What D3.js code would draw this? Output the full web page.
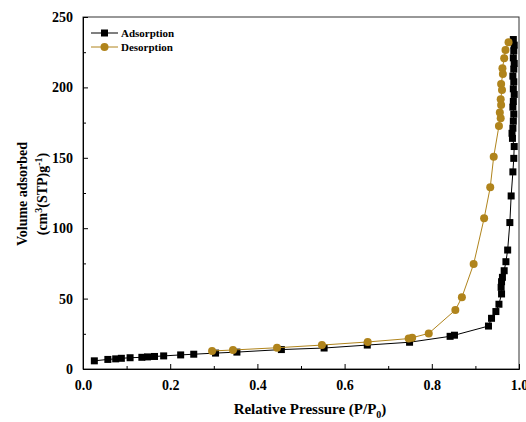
<!DOCTYPE html>
<html><head><meta charset="utf-8">
<script src="https://cdn.jsdelivr.net/npm/d3@7"></script>
<style>html,body{margin:0;padding:0;background:#fff;}svg{display:block;}</style>
</head><body>
<svg id="chart" width="526" height="422"></svg>
<script>
// ---- data ----
const adsP = [0.026,0.057,0.075,0.088,0.108,0.135,0.148,0.164,0.185,0.224,0.254,0.304,0.353,0.455,0.553,0.652,0.749,0.842,0.852,0.930,0.937,0.947,0.954,0.960,0.959,0.960,0.962,0.966,0.970,0.974,0.979,0.982,0.986,0.988,0.989,0.985,0.984,0.986,0.987,0.988,0.986,0.987,0.989,0.987,0.988,0.986,0.988,0.989,0.987,0.988,0.989,0.987];
const adsV = [5.8,6.8,7.2,7.6,8.0,8.3,8.6,8.9,9.3,10.0,10.5,11.3,12.0,13.8,14.9,17.0,19.0,23.2,24.0,30.5,36.0,40.8,46.0,53.3,58.0,62.0,65.1,69.8,76.2,84.5,104.0,122.9,140.0,149.6,158.0,163.8,167.4,171.0,176,181,186,190,195,199,204,208,213,217,221,226,230,234];
const desP = [0.976,0.969,0.966,0.962,0.963,0.959,0.961,0.958,0.959,0.956,0.958,0.954,0.942,0.934,0.920,0.896,0.869,0.854,0.793,0.755,0.747,0.653,0.548,0.445,0.344,0.296];
const desV = [232.0,226.6,220.7,213.6,209.5,202.4,198.2,191.6,187.5,182.1,178.1,172.6,150.8,129.0,107.0,74.6,50.9,41.9,25.3,22.2,21.6,19.2,17.0,15.1,13.5,12.8];
const xTicks = [0.0,0.2,0.4,0.6,0.8,1.0];
const xTickLabels = ["0.0","0.2","0.4","0.6","0.8","1.0"];
const yTicks = [0,50,100,150,200,250];
const seriesNames = ["Adsorption","Desorption"];
const colors = ["#000000","#b0841c"];

const svg = d3.select("#chart");
const L=83, R=519, T=17, B=369;
const x = d3.scaleLinear().domain([0,1]).range([L,R]);
const y = d3.scaleLinear().domain([0,250]).range([B,T]);
const font = "'Liberation Serif','Times New Roman',serif";

// frame
svg.append("rect").attr("x",L).attr("y",T).attr("width",R-L).attr("height",B-T)
  .attr("fill","none").attr("stroke","#333").attr("stroke-width",1);

// axes with inward ticks
const xAxis = d3.axisBottom(x).tickValues(xTicks).tickFormat((d,i)=>xTickLabels[i]).tickSizeInner(-5).tickSizeOuter(0).tickPadding(11);
const gx = svg.append("g").attr("transform",`translate(0,${B})`).call(xAxis);
const xMinor = d3.axisBottom(x).tickValues(d3.range(0.1,1,0.2)).tickFormat("").tickSizeInner(-3).tickSizeOuter(0);
const gxm = svg.append("g").attr("transform",`translate(0,${B})`).call(xMinor);
const yAxis = d3.axisLeft(y).tickValues(yTicks).tickSizeInner(-5).tickSizeOuter(0).tickPadding(10);
const gy = svg.append("g").attr("transform",`translate(${L},0)`).call(yAxis);
const yMinor = d3.axisLeft(y).tickValues(d3.range(25,250,50)).tickFormat("").tickSizeInner(-3).tickSizeOuter(0);
const gym = svg.append("g").attr("transform",`translate(${L},0)`).call(yMinor);
[gx,gxm,gy,gym].forEach(g=>{
  g.select(".domain").attr("stroke","#000");
  g.selectAll("line").attr("stroke","#000");
  g.selectAll("text").attr("font-family",font).attr("font-weight","bold").attr("font-size","14px").attr("fill","#000");
});

// series
const ads = adsP.map((p,i)=>[p,adsV[i]]);
const des = desP.map((p,i)=>[p,desV[i]]);
const line = d3.line().x(d=>x(d[0])).y(d=>y(d[1]));
svg.append("path").datum(ads).attr("d",line).attr("fill","none").attr("stroke",colors[0]).attr("stroke-width",1);
svg.append("g").selectAll("rect").data(ads).join("rect")
  .attr("x",d=>x(d[0])-3.5).attr("y",d=>y(d[1])-3.5).attr("width",7).attr("height",7).attr("fill",colors[0]);
svg.append("path").datum(des).attr("d",line).attr("fill","none").attr("stroke",colors[1]).attr("stroke-width",1);
svg.append("g").selectAll("circle").data(des).join("circle")
  .attr("cx",d=>x(d[0])).attr("cy",d=>y(d[1])).attr("r",4).attr("fill",colors[1]);

// legend
const lg = svg.append("g");
seriesNames.forEach((n,i)=>{
  const ly = 33 + i*14;
  lg.append("line").attr("x1",91).attr("x2",118).attr("y1",ly).attr("y2",ly).attr("stroke",colors[i]).attr("stroke-width",1);
  if(i===0) lg.append("rect").attr("x",104.5-3.5).attr("y",ly-3.5).attr("width",7).attr("height",7).attr("fill",colors[i]);
  else lg.append("circle").attr("cx",104.5).attr("cy",ly).attr("r",4).attr("fill",colors[i]);
  lg.append("text").attr("x",121).attr("y",ly+4).text(n)
    .attr("font-family",font).attr("font-weight","bold").attr("font-size","11px").attr("fill","#000");
});

// axis titles
const xt = svg.append("text").attr("x",(L+R)/2+9).attr("y",414).attr("text-anchor","middle")
  .attr("font-family",font).attr("font-weight","bold").attr("font-size","15px").attr("fill","#000");
xt.append("tspan").text("Relative Pressure (P/P");
xt.append("tspan").text("0").attr("font-size","10px").attr("dy",4);
xt.append("tspan").text(")").attr("dy",-4);

const yt = svg.append("g").attr("transform","translate(27,194) rotate(-90)");
yt.append("text").attr("text-anchor","middle").text("Volume adsorbed")
  .attr("font-family",font).attr("font-weight","bold").attr("font-size","14px").attr("fill","#000");
const yt2 = yt.append("text").attr("y",20).attr("text-anchor","middle")
  .attr("font-family",font).attr("font-weight","bold").attr("font-size","14px").attr("fill","#000");
yt2.append("tspan").text("(cm");
yt2.append("tspan").text("3").attr("font-size","10px").attr("dy",-5);
yt2.append("tspan").text("(STP)g").attr("dy",5);
yt2.append("tspan").text("-1").attr("font-size","10px").attr("dy",-5);
yt2.append("tspan").text(")").attr("dy",5);
</script>
</body></html>
